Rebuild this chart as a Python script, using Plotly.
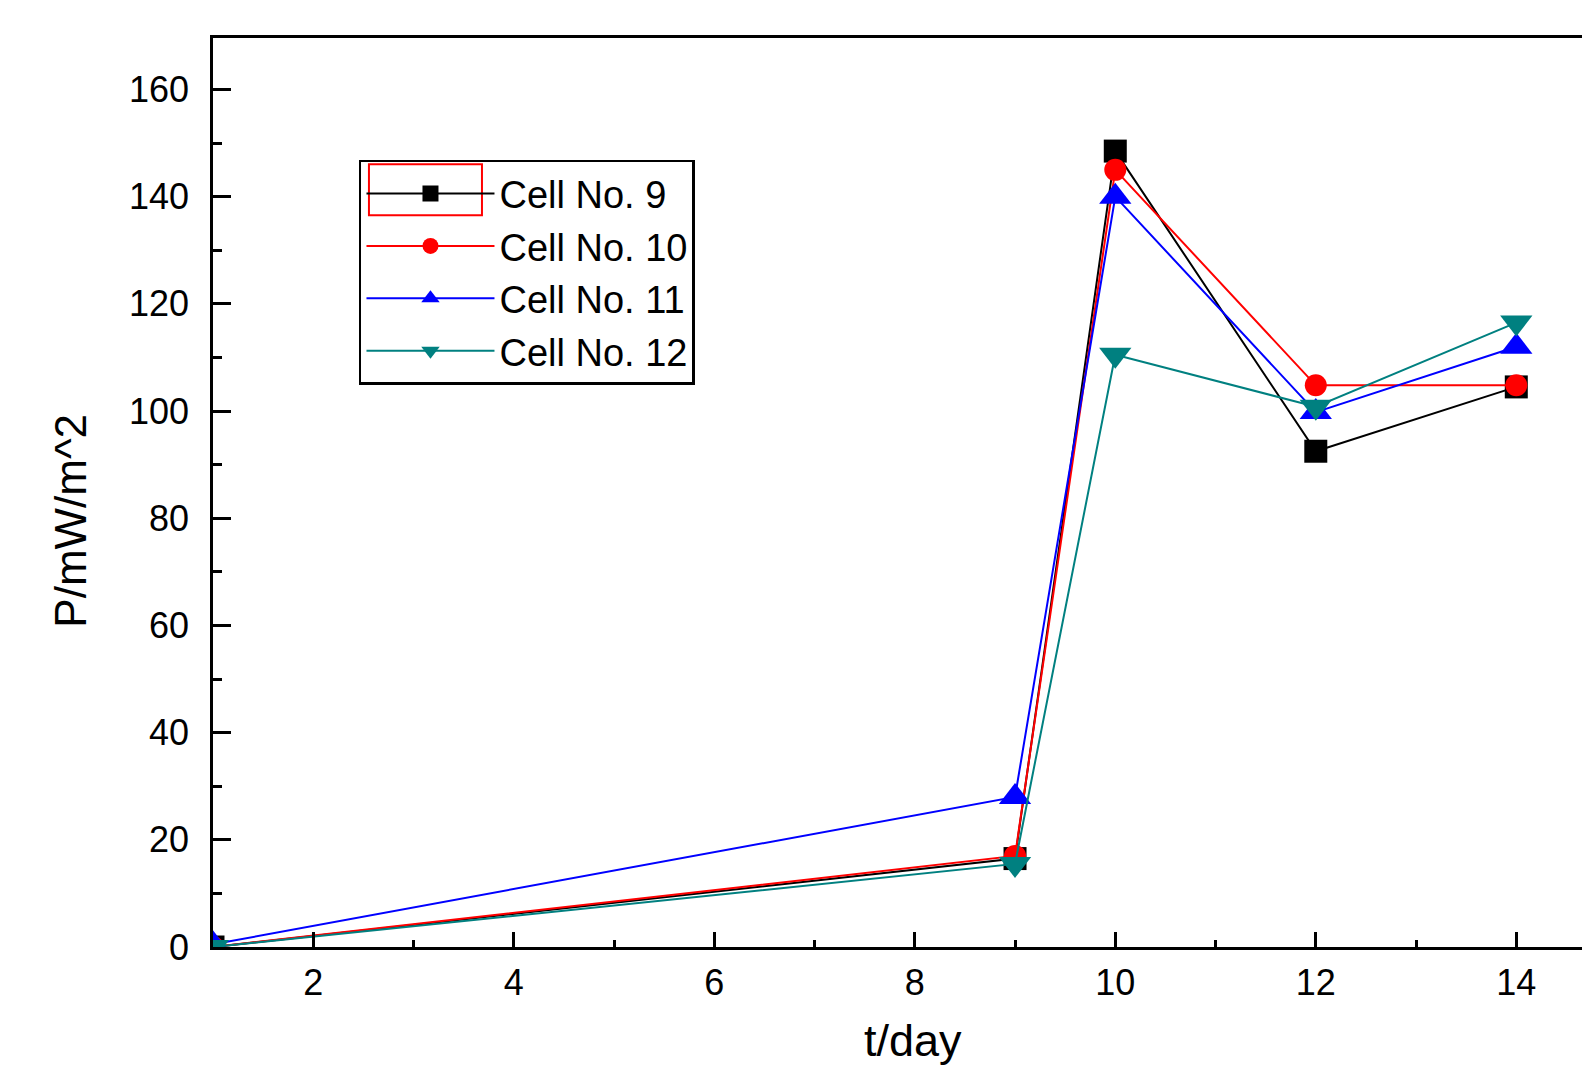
import plotly.graph_objects as go

days = [1, 9, 10, 12, 14]
cell9 = [0, 16.5, 148.5, 92.5, 104.5]
cell10 = [0, 17, 145, 104.8, 104.8]
cell11 = [0.5, 28, 140, 99.8, 112]
cell12 = [0, 15.5, 110.5, 100.8, 116.5]

names = ["Cell No. 9", "Cell No. 10", "Cell No. 11", "Cell No. 12"]
series = [cell9, cell10, cell11, cell12]
colors = ["#000000", "#FF0000", "#0000FF", "#008080"]
symbols = ["square", "circle", "triangle-up", "triangle-down"]
sizes = [23, 22, 28, 28]

FONT = "Liberation Sans, Arial, sans-serif"

fig = go.Figure()
for nm, ys, c, s, sz in zip(names, series, colors, symbols, sizes):
    fig.add_trace(go.Scatter(
        x=days, y=ys, name=nm, mode="lines+markers",
        line=dict(color=c, width=2),
        marker=dict(symbol=s, size=sz, color=c, line=dict(width=0)),
    ))

fig.update_layout(
    width=1590, height=1070,
    margin=dict(l=205, r=0, t=30, b=131, autoexpand=False),
    paper_bgcolor="white", plot_bgcolor="white",
    font=dict(family=FONT, color="black", size=36),
    showlegend=True,
    legend=dict(
        x=0.1054, y=0.866, xanchor="left", yanchor="top",
        bordercolor="black", borderwidth=2.5, bgcolor="rgba(255,255,255,0)",
        font=dict(family=FONT, size=38, color="black"),
        itemwidth=128, tracegroupgap=0, entrywidth=380, entrywidthmode="pixels",
    ),
    xaxis=dict(
        range=[1, 14.815], tickvals=[2, 4, 6, 8, 10, 12, 14],
        ticks="inside", ticklen=15, tickwidth=2.5, tickcolor="black",
        minor=dict(tickvals=[3, 5, 7, 9, 11, 13], ticks="inside", ticklen=7,
                   tickwidth=2.5, tickcolor="black"),
        showline=True, linecolor="black", linewidth=2.5, mirror=True,
        showgrid=False, zeroline=False, automargin=False,
        tickfont=dict(size=36, family=FONT, color="black"),
        ticklabelstandoff=2,
    ),
    yaxis=dict(
        range=[0, 169.6], tickvals=[0, 20, 40, 60, 80, 100, 120, 140, 160],
        ticks="inside", ticklen=18, tickwidth=2.5, tickcolor="black",
        minor=dict(tickvals=[10, 30, 50, 70, 90, 110, 130, 150], ticks="inside",
                   ticklen=9, tickwidth=2.5, tickcolor="black"),
        showline=True, linecolor="black", linewidth=2.5, mirror=False,
        showgrid=False, zeroline=False, automargin=False,
        tickfont=dict(size=36, family=FONT, color="black"),
        ticklabelstandoff=14,
    ),
    shapes=[
        dict(type="rect", xref="paper", yref="paper",
             x0=0.1126, x1=0.1942, y0=0.805, y1=0.861,
             line=dict(color="#FF0000", width=2), layer="above"),
    ],
    annotations=[
        dict(text="P/mW/m^2", xref="paper", yref="paper", x=0, y=0.469,
             xshift=-142, textangle=-90, showarrow=False,
             xanchor="center", yanchor="middle",
             font=dict(size=44, family=FONT, color="black")),
        dict(text="t/day", xref="paper", yref="paper", x=0.5054, y=0,
             yshift=-121, showarrow=False, xanchor="center", yanchor="bottom",
             font=dict(size=45, family=FONT, color="black")),
    ],
)

fig.write_html("out.html")
